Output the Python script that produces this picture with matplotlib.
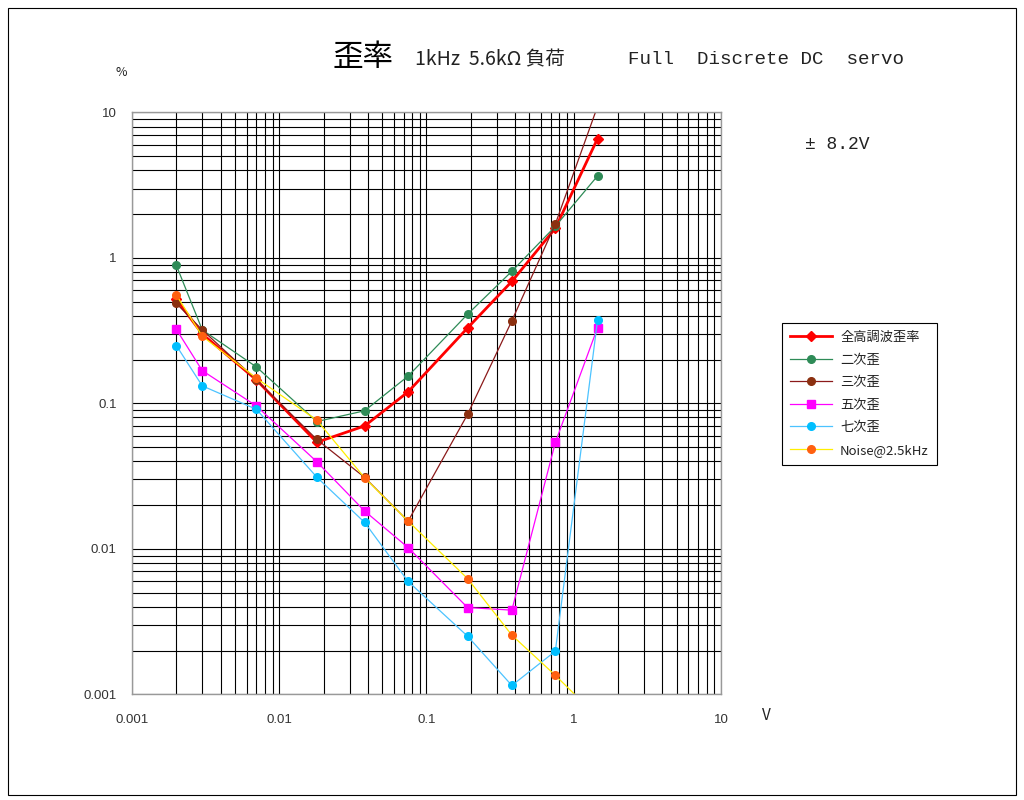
import matplotlib
matplotlib.use("Agg")
import matplotlib.pyplot as plt
from matplotlib.patches import Rectangle
from matplotlib.ticker import LogLocator, FixedLocator, NullFormatter

plt.rcParams['font.family'] = ['Noto Sans CJK JP', 'DejaVu Sans']

# ---- data (V vs distortion %) ----
volts = [0.002, 0.003, 0.007, 0.018, 0.038, 0.075, 0.19, 0.38, 0.75, 1.45]
thd = [0.52, 0.30, 0.145, 0.054, 0.070, 0.120, 0.33, 0.69, 1.60, 6.6]
h2 = [0.89, 0.32, 0.178, 0.075, 0.089, 0.154, 0.41, 0.81, 1.65, 3.66]
h3 = [0.487, 0.32, 0.145, 0.0565, 0.031, 0.0155, 0.084, 0.37, 1.71, 11.0]
h5 = [0.323, 0.168, 0.096, 0.0397, 0.0182, 0.0102, 0.00395, 0.00379, 0.0539, 0.331]
h7 = [0.25, 0.132, 0.091, 0.0311, 0.0152, 0.00597, 0.00251, 0.00115, 0.00198, 0.372]
noise = [0.556, 0.29, 0.149, 0.0767, 0.0308, 0.0155, 0.00625, 0.00255, 0.00135, 0.0007]

labels = ['全高調波歪率', '二次歪', '三次歪', '五次歪', '七次歪', 'Noise@2.5kHz']
x_ticks = [0.001, 0.01, 0.1, 1, 10]
x_ticklabels = ['0.001', '0.01', '0.1', '1', '10']
y_ticks = [0.001, 0.01, 0.1, 1, 10]
y_ticklabels = ['0.001', '0.01', '0.1', '1', '10']

fig = plt.figure(figsize=(10.24, 8.0), dpi=100)
fig.patches.append(Rectangle((0.008, 0.006), 0.984, 0.984, transform=fig.transFigure,
                             fill=False, edgecolor='black', linewidth=0.8))
ax = fig.add_axes([0.1289, 0.1321, 0.5752, 0.7273])
ax.set_xscale('log')
ax.set_yscale('log')
ax.set_xlim(0.001, 10)
ax.set_ylim(0.001, 10)

ax.xaxis.set_major_locator(FixedLocator(x_ticks))
ax.yaxis.set_major_locator(FixedLocator(y_ticks))
ax.xaxis.set_minor_locator(LogLocator(base=10, subs=range(2, 10), numticks=20))
ax.yaxis.set_minor_locator(LogLocator(base=10, subs=range(2, 10), numticks=20))
ax.xaxis.set_minor_formatter(NullFormatter())
ax.yaxis.set_minor_formatter(NullFormatter())
ax.set_xticklabels(x_ticklabels, fontsize=9.5, family=['Liberation Sans'])
ax.set_yticklabels(y_ticklabels, fontsize=9.5, family=['Liberation Sans'])
ax.tick_params(which='both', length=0, colors='#333333')
ax.tick_params(axis='x', pad=14)
ax.tick_params(axis='y', pad=11)
ax.grid(True, which='both', color='black', linewidth=0.8, zorder=0)
ax.set_axisbelow(True)
for s in ax.spines.values():
    s.set_color('#999999')
    s.set_linewidth(1.0)

ax.plot(volts, thd, color='#ff0000', lw=2.0, marker='D', ms=5, mfc='#ff0000', mec='#ff0000', label=labels[0])
ax.plot(volts, h2, color='#2e8b57', lw=0.9, marker='o', ms=5.5, mfc='#2e8b57', mec='#2e8b57', label=labels[1])
ax.plot(volts, h3, color='#8b1a1a', lw=0.9, marker='o', ms=5.5, mfc='#8b3010', mec='#8b3010', label=labels[2])
ax.plot(volts, h5, color='#ff00ff', lw=0.9, marker='s', ms=6, mfc='#ff00ff', mec='#ff00ff', label=labels[3])
ax.plot(volts, h7, color='#4cc3ff', lw=0.9, marker='o', ms=5.5, mfc='#00bfff', mec='#00bfff', label=labels[4])
ax.plot(volts, noise, color='#ffee00', lw=0.9, marker='o', ms=5.5, mfc='#ff6010', mec='#ff6010', label=labels[5])

leg = fig.legend(loc='upper left', bbox_to_anchor=(0.7637, 0.596), fontsize=9.5,
                 frameon=True, fancybox=False, edgecolor='black', framealpha=1,
                 handlelength=3.2, labelspacing=0.72, borderpad=0.6, handletextpad=0.6,
                 borderaxespad=0)
leg.get_frame().set_linewidth(0.8)
for t in leg.get_texts():
    t.set_color('#222222')

fig.text(0.325, 0.928, '歪率', fontsize=22, va='center', ha='left')
fig.text(0.405, 0.925, '1kHz  5.6kΩ 負荷', fontsize=14, va='center', ha='left', color='#222222')
fig.text(0.613, 0.925, 'Full  Discrete DC  servo', fontsize=13.8, va='center', ha='left',
         family=['Liberation Mono'], color='#222222')
fig.text(0.786, 0.819, '± 8.2V', fontsize=13, va='center', ha='left',
         family=['Liberation Mono'], color='#222222')
fig.text(0.118, 0.909, '%', fontsize=9, va='center', ha='center', color='#222222')
fig.text(0.748, 0.105, 'V', fontsize=11, va='center', ha='center', color='#222222')

fig.savefig('out.png', dpi=100)
